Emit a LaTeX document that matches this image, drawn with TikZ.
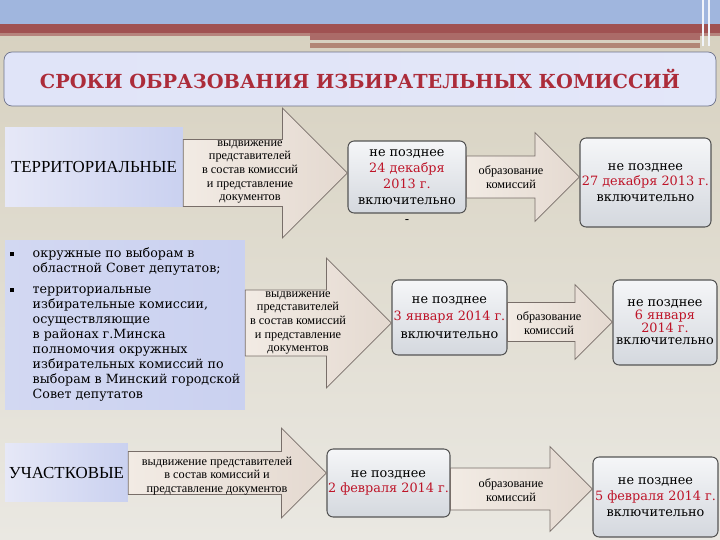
\documentclass[tikz,border=0pt]{standalone}
\usepackage{fontspec}
\setmainfont{DejaVu Serif}
\newfontfamily\timesfont{Liberation Serif}
\usetikzlibrary{calc,positioning}

\definecolor{bandblue}{RGB}{160,182,222}
\definecolor{bandred}{RGB}{160,82,82}
\definecolor{bandbrown}{RGB}{178,135,118}
\definecolor{bgtop}{RGB}{214,208,190}
\definecolor{bgbottom}{RGB}{234,232,226}
\definecolor{titlefill}{RGB}{224,228,248}
\definecolor{titleline}{RGB}{110,115,140}
\definecolor{titlered}{RGB}{172,44,58}
\definecolor{datered}{RGB}{190,20,40}
\definecolor{sidelight}{RGB}{230,232,247}
\definecolor{sideblue}{RGB}{202,209,240}
\definecolor{boxlight}{RGB}{245,246,248}
\definecolor{boxgrey}{RGB}{212,216,222}
\definecolor{boxline}{RGB}{85,85,85}
\definecolor{arrowlight}{RGB}{242,235,228}
\definecolor{arrowdark}{RGB}{228,217,208}
\definecolor{arrowline}{RGB}{120,110,105}

\newcommand{\deadline}[1]{\textcolor{datered}{#1}}

% fat arrow: from node, to node, y (px), half shaft, half head
\newcommand{\bigarrow}[5]{%
  \draw[fatarrow] let \p1=(#1.east), \p2=(#2.west), \p3=(0,#3) in
    (\x1,{\y3+#4}) -- ({\x2-#5},{\y3+#4}) -- ({\x2-#5},{\y3+#5})
    -- (\x2,\y3) -- ({\x2-#5},{\y3-#5}) -- ({\x2-#5},{\y3-#4})
    -- (\x1,{\y3-#4}) -- cycle;}

\begin{document}
\begin{tikzpicture}[x=0.02cm, y=-0.02cm,
    sidebox/.style ={left color=sidelight, right color=sideblue, inner sep=0pt,
                     font=\timesfont\fontsize{9.6}{11}\selectfont},
    datebox/.style ={draw=boxline, line width=0.6pt, rounded corners=3.5pt,
                     top color=boxlight, bottom color=boxgrey, inner sep=0pt,
                     align=center, font=\fontsize{7.3}{9}\selectfont},
    fatarrow/.style ={draw=arrowline, line width=0.4pt,
                      left color=arrowlight, right color=arrowdark},
    arrowtext/.style ={align=center, font=\timesfont\fontsize{7}{7.8}\selectfont}]
   \useasboundingbox (0,0) rectangle (720,540);
   % background and top bands
   \fill[top color=bgtop, bottom color=bgbottom] (0,0) rectangle (720,540);
   \fill[bandblue] (0,0) rectangle (720,24);
   \fill[bandred] (0,24) rectangle (720,33);
   \fill[bandred!60!bgtop] (0,33) rectangle (720,36);
   \fill[bandred!80!bgtop] (310,33) rectangle (700,40);
   \fill[bandbrown] (310,43) rectangle (700,48);
   \draw[white!85!bandblue, line width=1pt] (703,0) -- (703,46);
   \draw[white!85!bandblue, line width=1pt] (709,0) -- (709,46);

   % title
   \node[draw=titleline, rounded corners=4.5pt, left color=titlefill,
         right color=titlefill!90!white, minimum width=14.24cm, minimum height=1.08cm,
         font=\bfseries\fontsize{11}{13}\selectfont, text=titlered]
         (title) at (360,79) {СРОКИ ОБРАЗОВАНИЯ ИЗБИРАТЕЛЬНЫХ КОМИССИЙ};

   % left column
   \node[sidebox, minimum width=3.56cm, minimum height=1.6cm] (terr) at (94,167) {ТЕРРИТОРИАЛЬНЫЕ};
   \node[sidebox, minimum width=4.8cm, minimum height=3.4cm, left color=sideblue!70!sidelight,
         right color=sideblue, font=\fontsize{7.2}{8.5}\selectfont] (okrug) at (125,325)
     {\begin{tabular}{@{}l@{\hspace{0.38cm}}l@{}}
      \rule[0.8pt]{2.3pt}{2.3pt} & окружные по выборам в\\
       & областной Совет депутатов;\\[3.4pt]
      \rule[0.8pt]{2.3pt}{2.3pt} & территориальные\\
       & избирательные комиссии,\\
       & осуществляющие\\
       & в районах г.Минска\\
       & полномочия окружных\\
       & избирательных комиссий по\\
       & выборам в Минский городской\\
       & Совет депутатов
      \end{tabular}};
   \node[sidebox, minimum width=2.46cm, minimum height=1.18cm] (uch) at (66.5,472.5) {УЧАСТКОВЫЕ};

   % deadline boxes
   \node[datebox, minimum width=2.36cm, minimum height=1.44cm] (d1) at (407,177)
     {не позднее\\ \deadline{24 декабря}\\ \deadline{2013 г.}\\ включительно};
   \node[below=0pt of d1, font=\fontsize{7.3}{9}\selectfont] (dash) {-};
   \node[datebox, minimum width=2.62cm, minimum height=1.78cm] (d2) at (645.5,182.5)
     {не позднее\\ \deadline{27 декабря 2013 г.}\\ включительно};
   \node[datebox, minimum width=2.3cm, minimum height=1.5cm, font=\fontsize{7.3}{10}\selectfont]
     (d3) at (449.5,317.5) {не позднее\\ \deadline{3 января 2014 г.}\\ включительно};
   \node[datebox, minimum width=2.08cm, minimum height=1.7cm, font=\fontsize{7.3}{7.2}\selectfont]
     (d4) at (665,322.5) {не позднее\\ \deadline{6 января}\\ \deadline{2014 г.}\\ включительно};
   \node[datebox, minimum width=2.46cm, minimum height=1.36cm] (d5) at (388.5,483)
     {не позднее\\ \deadline{2 февраля 2014 г.}};
   \node[datebox, minimum width=2.5cm, minimum height=1.6cm] (d6) at (655.5,497)
     {не позднее\\ \deadline{5 февраля 2014 г.}\\ включительно};

   % arrows
   \bigarrow{terr}{d1}{173}{0.67cm}{1.3cm}
   \bigarrow{d1}{d2}{177}{0.42cm}{0.89cm}
   \bigarrow{okrug}{d3}{323}{0.66cm}{1.3cm}
   \bigarrow{d3}{d4}{322}{0.39cm}{0.75cm}
   \bigarrow{uch}{d5}{473}{0.43cm}{0.9cm}
   \bigarrow{d5}{d6}{489}{0.42cm}{0.85cm}

   \node[arrowtext] (a1) at (250,172) {выдвижение\\ представителей\\ в состав комиссий\\ и представление\\ документов};
   \node[arrowtext] (a2) at (511,177) {образование\\ комиссий};
   \node[arrowtext] (a3) at (298,323) {выдвижение\\ представителей\\ в состав комиссий\\ и представление\\ документов};
   \node[arrowtext] (a4) at (549,323) {образование\\ комиссий};
   \node[arrowtext] (a5) at (217,476) {выдвижение представителей\\ в состав комиссий и\\ представление документов};
   \node[arrowtext] (a6) at (511,490) {образование\\ комиссий};
 \end{tikzpicture}
\end{document}
